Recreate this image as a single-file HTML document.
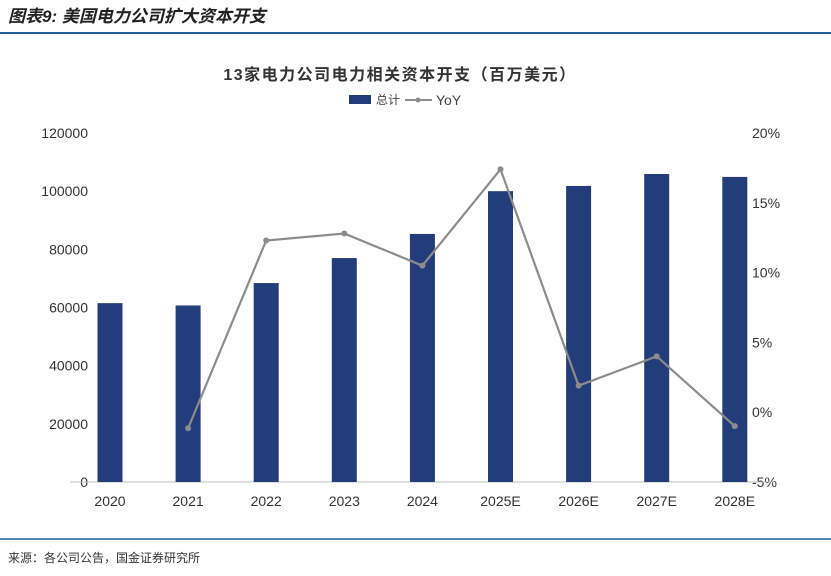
<!DOCTYPE html>
<html><head><meta charset="utf-8"><style>
body{margin:0;width:831px;height:571px;background:#fff;overflow:hidden;font-family:"Liberation Sans","Noto Sans CJK SC",sans-serif;}
</style></head><body>
<svg width="831" height="571" xmlns="http://www.w3.org/2000/svg" font-family="Liberation Sans, Noto Sans CJK SC, sans-serif">
<text x="8" y="22" font-size="17" font-weight="bold" font-style="italic" fill="#222">图表9:  美国电力公司扩大资本开支</text>
<line x1="0" y1="33" x2="831" y2="33" stroke="#1f5f9a" stroke-width="2"/>
<text x="400" y="80" font-size="16" font-weight="bold" text-anchor="middle" fill="#333" letter-spacing="1.5">13家电力公司电力相关资本开支（百万美元）</text>
<g>
<rect x="349" y="95" width="22" height="9" fill="#233d7b"/>
<text x="376" y="104" font-size="12" fill="#444">总计</text>
<line x1="405" y1="100" x2="432" y2="100" stroke="#8c8c8c" stroke-width="2"/>
<circle cx="418" cy="100" r="2.5" fill="#8c8c8c"/>
<text x="436" y="105" font-size="14" fill="#444">YoY</text>
</g>
<g id="chart"></g>
<line x1="0" y1="539" x2="831" y2="539" stroke="#1f5f9a" stroke-width="1.5"/>
<text x="8" y="562" font-size="12" fill="#333">来源：各公司公告，国金证券研究所</text>
</svg>
<script>
const categories=["2020","2021","2022","2023","2024","2025E","2026E","2027E","2028E"];
const totals=[61500,60700,68400,77000,85300,100000,101800,105900,104900];
const yoy=[null,-1.15,12.3,12.8,10.5,17.4,1.9,4.0,-1.0];
const leftTicks=[0,20000,40000,60000,80000,100000,120000];
const rightTicks=[-5,0,5,10,15,20];
const NS="http://www.w3.org/2000/svg";
const g=document.getElementById('chart');
const y0=482,yTop=133;
const yL=v=>y0-(v/120000)*(y0-yTop);
const yR=v=>y0-((v+5)/25)*(y0-yTop);
const xC=i=>110+i*78.1;
function mk(t,a){const e=document.createElementNS(NS,t);for(const k in a)e.setAttribute(k,a[k]);g.appendChild(e);return e;}
leftTicks.forEach(v=>{const t=mk('text',{x:88,y:yL(v)+5,'font-size':14,'text-anchor':'end',fill:'#333'});t.textContent=v;

});
rightTicks.forEach(v=>{const t=mk('text',{x:752,y:yR(v)+5,'font-size':14,fill:'#333'});t.textContent=v+'%';

});
const ax=mk('line',{x1:70,y1:y0,x2:774,y2:y0,stroke:'#bfbfbf'});


categories.forEach((c,i)=>{
const b=mk('rect',{x:xC(i)-12.5,y:yL(totals[i]),width:25,height:y0-yL(totals[i]),fill:'#233d7b'});


const t=mk('text',{x:xC(i),y:506,'font-size':14,'text-anchor':'middle',fill:'#333'});t.textContent=c;


});
const pts=[];yoy.forEach((v,i)=>{if(v!==null)pts.push(xC(i)+','+yR(v));});
const pl=mk('polyline',{points:pts.join(' '),fill:'none',stroke:'#8c8c8c','stroke-width':2.2});


yoy.forEach((v,i)=>{if(v===null)return;const c=mk('circle',{cx:xC(i),cy:yR(v),r:3,fill:'#8c8c8c'});

});
</script>
</body></html>
